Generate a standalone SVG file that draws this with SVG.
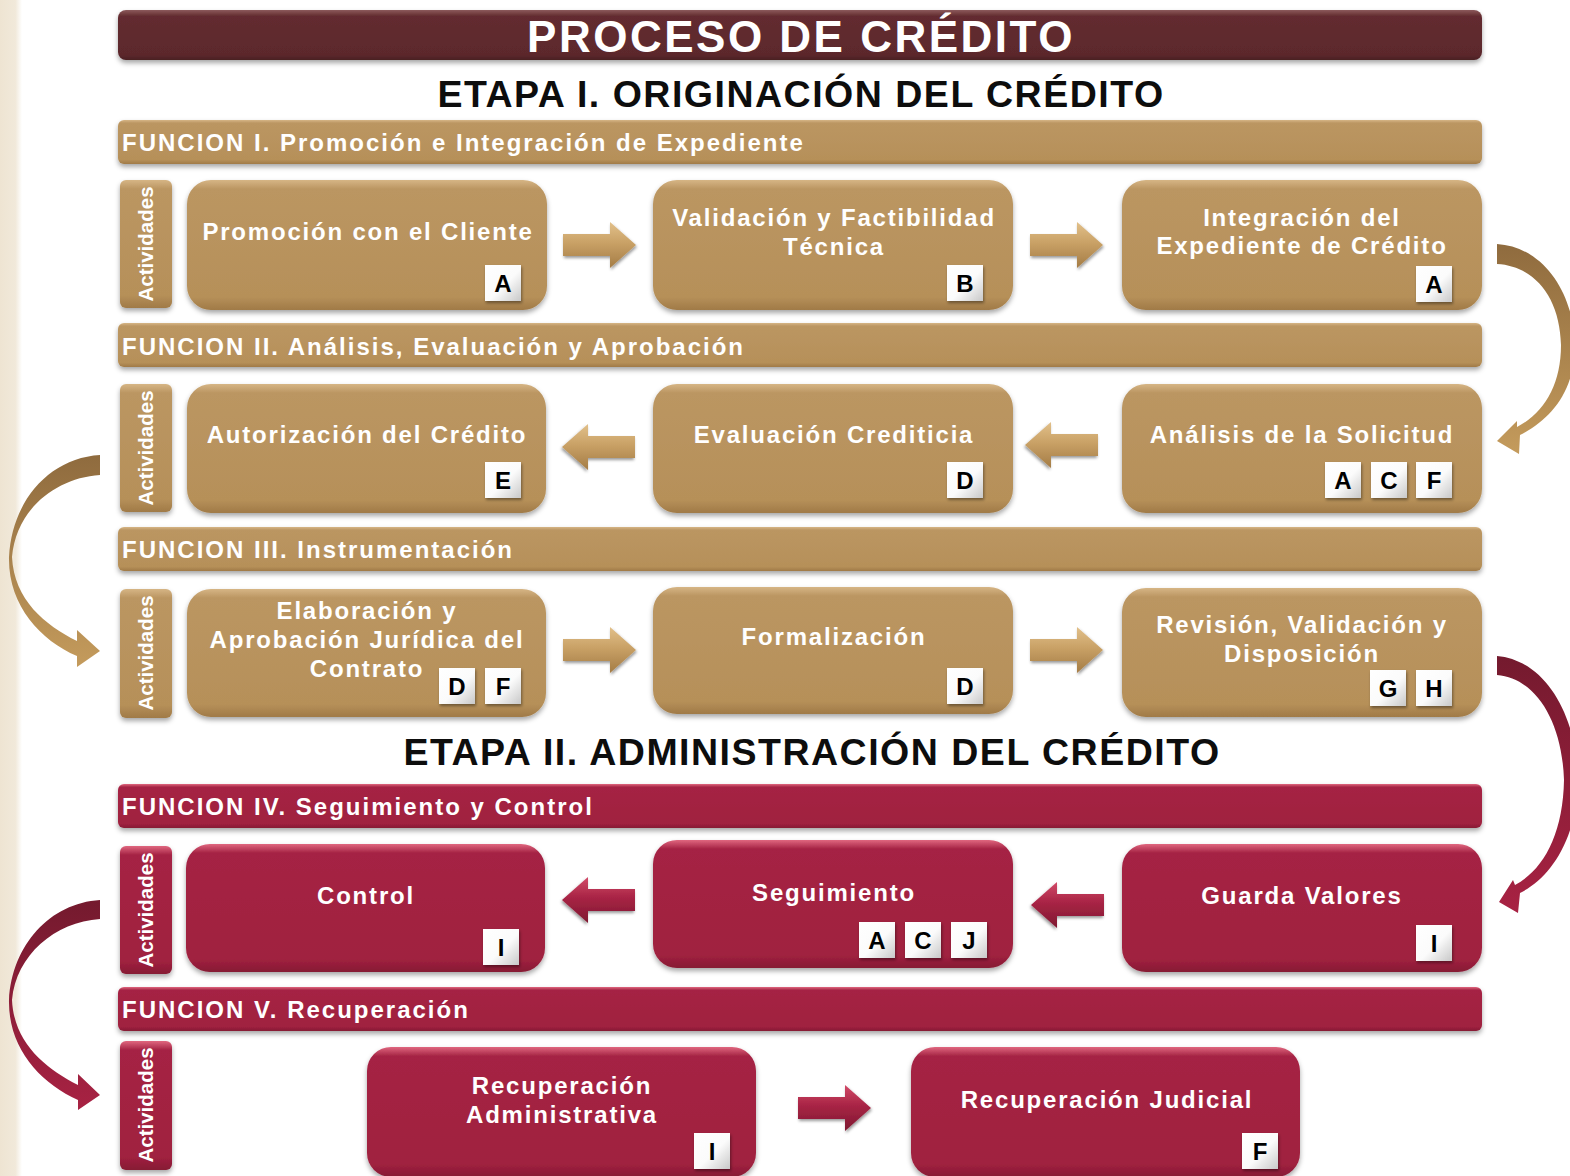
<svg xmlns="http://www.w3.org/2000/svg" width="1570" height="1176" viewBox="0 0 1570 1176">
<defs>
<linearGradient id="gGold" x1="0" y1="0" x2="0" y2="1">
<stop offset="0" stop-color="#d6b585"/><stop offset="0.07" stop-color="#bb9662"/><stop offset="0.9" stop-color="#b69059"/><stop offset="1" stop-color="#a07a47"/>
</linearGradient>
<linearGradient id="gRed" x1="0" y1="0" x2="0" y2="1">
<stop offset="0" stop-color="#e0667f"/><stop offset="0.07" stop-color="#a52444"/><stop offset="0.9" stop-color="#a0213f"/><stop offset="1" stop-color="#861a34"/>
</linearGradient>
<linearGradient id="gTitle" x1="0" y1="0" x2="0" y2="1">
<stop offset="0" stop-color="#8c5a5c"/><stop offset="0.12" stop-color="#632c30"/><stop offset="0.9" stop-color="#5c282c"/><stop offset="1" stop-color="#4a1f22"/>
</linearGradient>
<linearGradient id="gArrGold" x1="0" y1="0" x2="0" y2="1">
<stop offset="0" stop-color="#e2c08a"/><stop offset="0.45" stop-color="#c9a166"/><stop offset="1" stop-color="#a47c45"/>
</linearGradient>
<linearGradient id="gArrRed" x1="0" y1="0" x2="0" y2="1">
<stop offset="0" stop-color="#d24a68"/><stop offset="0.45" stop-color="#a82445"/><stop offset="1" stop-color="#7e1830"/>
</linearGradient>
<linearGradient id="gCurGold" x1="0" y1="0" x2="0" y2="1">
<stop offset="0" stop-color="#8f6b3e"/><stop offset="1" stop-color="#c49b5c"/>
</linearGradient>
<linearGradient id="gCurRed" x1="0" y1="0" x2="0" y2="1">
<stop offset="0" stop-color="#741a2e"/><stop offset="1" stop-color="#a82243"/>
</linearGradient>
<linearGradient id="gBadge" x1="0" y1="0" x2="1" y2="1">
<stop offset="0" stop-color="#ffffff"/><stop offset="0.55" stop-color="#fbfbfb"/><stop offset="1" stop-color="#c8c8c8"/>
</linearGradient>
<linearGradient id="gStrip" x1="0" y1="0" x2="1" y2="0">
<stop offset="0" stop-color="#eee4d2"/><stop offset="0.7" stop-color="#f1e9da"/><stop offset="1" stop-color="#ffffff"/>
</linearGradient>
<filter id="sh" x="-10%" y="-10%" width="120%" height="130%">
<feDropShadow dx="0" dy="3" stdDeviation="2.5" flood-color="#000" flood-opacity="0.35"/>
</filter>
<filter id="shb" x="-20%" y="-20%" width="150%" height="150%">
<feDropShadow dx="1" dy="2" stdDeviation="1.5" flood-color="#000" flood-opacity="0.4"/>
</filter>
<path id="arr" d="M0,-11 L47,-11 L47,-23 L73,0 L47,23 L47,11 L0,11 Z"/>
<style>
.gold{fill:url(#gGold);filter:url(#sh)}
.red{fill:url(#gRed);filter:url(#sh)}
.nt{font-family:"Liberation Sans",Arial,sans-serif;font-weight:bold;font-size:24px;fill:#ffffff;letter-spacing:1.8px;text-anchor:middle}
.ft{font-family:"Liberation Sans",Arial,sans-serif;font-weight:bold;font-size:24px;fill:#ffffff;letter-spacing:2px}
.act{font-family:"Liberation Sans",Arial,sans-serif;font-weight:bold;font-size:20.5px;fill:#ffffff;text-anchor:middle}
.et{font-family:"Liberation Sans",Arial,sans-serif;font-weight:bold;font-size:37.5px;fill:#0d0d0d;letter-spacing:1.5px;text-anchor:middle}
.tt{font-family:"Liberation Sans",Arial,sans-serif;font-weight:bold;font-size:44px;fill:#ffffff;letter-spacing:2.5px;text-anchor:middle}
.bd{fill:url(#gBadge);filter:url(#shb)}
.bl{font-family:"Liberation Sans",Arial,sans-serif;font-weight:bold;font-size:24px;fill:#000000;text-anchor:middle}
.ag{fill:url(#gArrGold);filter:url(#shb)}
.ar{fill:url(#gArrRed);filter:url(#shb)}
</style>
</defs>

<rect x="0" y="0" width="1570" height="1176" fill="#ffffff"/>
<rect x="0" y="0" width="22" height="1176" fill="url(#gStrip)"/>

<g id="title">
<rect x="118" y="10" width="1364" height="50" rx="8" fill="url(#gTitle)" filter="url(#sh)"/>
<text class="tt" x="801" y="52">PROCESO DE CRÉDITO</text>
</g>
<g id="etapa1"><text class="et" x="801" y="107">ETAPA I. ORIGINACIÓN DEL CRÉDITO</text></g>
<g id="etapa2"><text class="et" x="812" y="765">ETAPA II. ADMINISTRACIÓN DEL CRÉDITO</text></g>

<g id="funcion1"><rect class="gold" x="118" y="120" width="1364" height="44" rx="6"/><text class="ft" x="122" y="151">FUNCION I. Promoción e Integración de Expediente</text></g>
<g id="funcion2"><rect class="gold" x="118" y="323" width="1364" height="44" rx="6"/><text class="ft" x="122" y="355">FUNCION II. Análisis, Evaluación y Aprobación</text></g>
<g id="funcion3"><rect class="gold" x="118" y="527" width="1364" height="44" rx="6"/><text class="ft" x="122" y="558">FUNCION III. Instrumentación</text></g>
<g id="funcion4"><rect class="red" x="118" y="784" width="1364" height="44" rx="6"/><text class="ft" x="122" y="815">FUNCION IV. Seguimiento y Control</text></g>
<g id="funcion5"><rect class="red" x="118" y="987" width="1364" height="44" rx="6"/><text class="ft" x="122" y="1018">FUNCION V. Recuperación</text></g>

<g id="act1"><rect class="gold" x="120" y="180" width="52" height="128" rx="6"/><text class="act" transform="translate(146,244) rotate(-90)" y="7">Actividades</text></g>
<g id="act2"><rect class="gold" x="120" y="384" width="52" height="128" rx="6"/><text class="act" transform="translate(146,448) rotate(-90)" y="7">Actividades</text></g>
<g id="act3"><rect class="gold" x="120" y="589" width="52" height="129" rx="6"/><text class="act" transform="translate(146,653) rotate(-90)" y="7">Actividades</text></g>
<g id="act4"><rect class="red" x="120" y="846" width="52" height="128" rx="6"/><text class="act" transform="translate(146,910) rotate(-90)" y="7">Actividades</text></g>
<g id="act5"><rect class="red" x="120" y="1041" width="52" height="129" rx="6"/><text class="act" transform="translate(146,1105) rotate(-90)" y="7">Actividades</text></g>

<g id="n-promocion">
<rect class="gold" x="187" y="180" width="360" height="130" rx="24"/>
<text class="nt" x="368" y="240">Promoción con el Cliente</text>
<rect class="bd" x="485" y="265" width="36" height="36"/><text class="bl" x="503" y="292">A</text>
</g>
<g id="n-validacion">
<rect class="gold" x="653" y="180" width="360" height="130" rx="24"/>
<text class="nt" x="834" y="226">Validación y Factibilidad</text>
<text class="nt" x="834" y="255">Técnica</text>
<rect class="bd" x="947" y="265" width="36" height="36"/><text class="bl" x="965" y="292">B</text>
</g>
<g id="n-integracion">
<rect class="gold" x="1122" y="180" width="360" height="130" rx="24"/>
<text class="nt" x="1302" y="226">Integración del</text>
<text class="nt" x="1302" y="254">Expediente de Crédito</text>
<rect class="bd" x="1416" y="266" width="36" height="36"/><text class="bl" x="1434" y="293">A</text>
</g>

<g id="n-autorizacion">
<rect class="gold" x="187" y="384" width="359" height="129" rx="24"/>
<text class="nt" x="367" y="443">Autorización del Crédito</text>
<rect class="bd" x="485" y="462" width="36" height="36"/><text class="bl" x="503" y="489">E</text>
</g>
<g id="n-evaluacion">
<rect class="gold" x="653" y="384" width="360" height="129" rx="24"/>
<text class="nt" x="834" y="443">Evaluación Crediticia</text>
<rect class="bd" x="947" y="462" width="36" height="36"/><text class="bl" x="965" y="489">D</text>
</g>
<g id="n-analisis">
<rect class="gold" x="1122" y="384" width="360" height="129" rx="24"/>
<text class="nt" x="1302" y="443">Análisis de la Solicitud</text>
<rect class="bd" x="1325" y="462" width="36" height="36"/><text class="bl" x="1343" y="489">A</text>
<rect class="bd" x="1371" y="462" width="36" height="36"/><text class="bl" x="1389" y="489">C</text>
<rect class="bd" x="1416" y="462" width="36" height="36"/><text class="bl" x="1434" y="489">F</text>
</g>

<g id="n-elaboracion">
<rect class="gold" x="187" y="589" width="359" height="128" rx="24"/>
<text class="nt" x="367" y="619">Elaboración y</text>
<text class="nt" x="367" y="648">Aprobación Jurídica del</text>
<text class="nt" x="367" y="677">Contrato</text>
<rect class="bd" x="439" y="668" width="36" height="36"/><text class="bl" x="457" y="695">D</text>
<rect class="bd" x="485" y="668" width="36" height="36"/><text class="bl" x="503" y="695">F</text>
</g>
<g id="n-formalizacion">
<rect class="gold" x="653" y="587" width="360" height="127" rx="24"/>
<text class="nt" x="834" y="645">Formalización</text>
<rect class="bd" x="947" y="668" width="36" height="36"/><text class="bl" x="965" y="695">D</text>
</g>
<g id="n-revision">
<rect class="gold" x="1122" y="588" width="360" height="129" rx="24"/>
<text class="nt" x="1302" y="633">Revisión, Validación y</text>
<text class="nt" x="1302" y="662">Disposición</text>
<rect class="bd" x="1370" y="670" width="36" height="36"/><text class="bl" x="1388" y="697">G</text>
<rect class="bd" x="1416" y="670" width="36" height="36"/><text class="bl" x="1434" y="697">H</text>
</g>

<g id="n-control">
<rect class="red" x="186" y="844" width="359" height="128" rx="24"/>
<text class="nt" x="366" y="904">Control</text>
<rect class="bd" x="483" y="929" width="36" height="36"/><text class="bl" x="501" y="956">I</text>
</g>
<g id="n-seguimiento">
<rect class="red" x="653" y="840" width="360" height="128" rx="24"/>
<text class="nt" x="834" y="901">Seguimiento</text>
<rect class="bd" x="859" y="922" width="36" height="36"/><text class="bl" x="877" y="949">A</text>
<rect class="bd" x="905" y="922" width="36" height="36"/><text class="bl" x="923" y="949">C</text>
<rect class="bd" x="951" y="922" width="36" height="36"/><text class="bl" x="969" y="949">J</text>
</g>
<g id="n-guarda">
<rect class="red" x="1122" y="844" width="360" height="128" rx="24"/>
<text class="nt" x="1302" y="904">Guarda Valores</text>
<rect class="bd" x="1416" y="925" width="36" height="36"/><text class="bl" x="1434" y="952">I</text>
</g>

<g id="n-recadmin">
<rect class="red" x="367" y="1047" width="389" height="130" rx="24"/>
<text class="nt" x="562" y="1094">Recuperación</text>
<text class="nt" x="562" y="1123">Administrativa</text>
<rect class="bd" x="694" y="1133" width="36" height="36"/><text class="bl" x="712" y="1160">I</text>
</g>
<g id="n-recjud">
<rect class="red" x="911" y="1047" width="389" height="130" rx="24"/>
<text class="nt" x="1107" y="1108">Recuperación Judicial</text>
<rect class="bd" x="1242" y="1133" width="36" height="36"/><text class="bl" x="1260" y="1160">F</text>
</g>

<g id="connectors">
<use href="#arr" class="ag" transform="translate(563,245)"/>
<use href="#arr" class="ag" transform="translate(1030,245)"/>
<use href="#arr" class="ag" transform="translate(635,447) scale(-1,1)"/>
<use href="#arr" class="ag" transform="translate(1098,445) scale(-1,1)"/>
<use href="#arr" class="ag" transform="translate(563,650)"/>
<use href="#arr" class="ag" transform="translate(1030,650)"/>
<use href="#arr" class="ar" transform="translate(635,900) scale(-1,1)"/>
<use href="#arr" class="ar" transform="translate(1104,905) scale(-1,1)"/>
<use href="#arr" class="ar" transform="translate(798,1108)"/>
<path fill="url(#gCurGold)" d="M1497,244 C1545,247 1574,295 1575,345 C1575,392 1550,420 1520,435 L1519,454 L1497,441 L1517,421 L1517,427 C1544,413 1561,385 1561,345 C1560,298 1535,266 1497,264 Z"/>
<path fill="url(#gCurGold)" d="M100,455 C50,458 12,500 9,557 C8,605 40,640 77,656 L77,667 L100,651 L77,630 L77,641 C45,625 14,600 12,557 C16,510 55,478 100,475 Z"/>
<path fill="url(#gCurRed)" d="M1497,656 C1545,660 1577,715 1578,780 C1577,840 1550,878 1520,893 L1518,913 L1499,902 L1513,880 L1515,885 C1543,870 1563,835 1564,780 C1562,720 1535,678 1497,675 Z"/>
<path fill="url(#gCurRed)" d="M100,900 C50,903 12,945 9,1000 C8,1048 40,1083 78,1100 L78,1110 L100,1095 L78,1074 L78,1085 C45,1068 14,1043 12,1000 C16,955 55,922 100,919 Z"/>
</g>
</svg>
